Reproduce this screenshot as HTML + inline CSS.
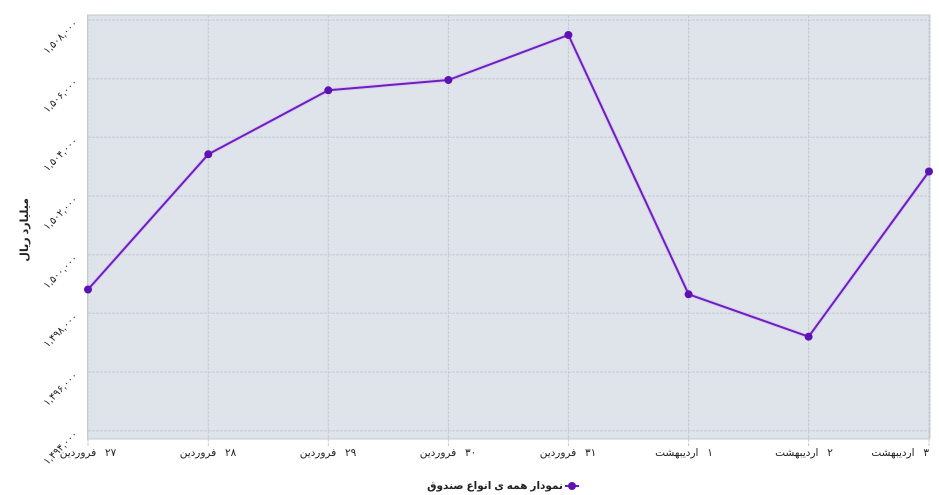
<!DOCTYPE html>
<html>
<head>
<meta charset="utf-8">
<style>
  html, body { margin:0; padding:0; background:#ffffff; }
  body { width:939px; height:495px; position:relative; overflow:hidden;
         font-family:"Liberation Sans","DejaVu Sans",sans-serif; color:#222; }
  .xl { position:absolute; top:446px; font-size:10.5px; white-space:pre; direction:rtl;
        line-height:14px; color:#222; }
  .ytitle { position:absolute; left:-5px; top:220px; width:60px; text-align:center;
            transform:rotate(-90deg); transform-origin:30px 8px; font-size:11px; font-weight:bold;
            direction:rtl; white-space:nowrap; line-height:16px; }
  .legend { position:absolute; left:363px; width:200px; text-align:right; top:478px; font-size:10.5px; font-weight:bold;
            white-space:nowrap; line-height:16px; }
  .legend span { direction:rtl; unicode-bidi:embed; }
</style>
</head>
<body>
<svg width="939" height="495" style="position:absolute;left:0;top:0">
  <rect x="87.5" y="15" width="842.5" height="424" fill="#dfe3ea" stroke="#c4c8cf" stroke-width="1"/>
  <!-- horizontal grid -->
  <g stroke="#c6cad1" stroke-width="1" stroke-dasharray="3,1">
    <line x1="88" x2="930" y1="20" y2="20"/>
    <line x1="88" x2="930" y1="78.7" y2="78.7"/>
    <line x1="88" x2="930" y1="137.3" y2="137.3"/>
    <line x1="88" x2="930" y1="196" y2="196"/>
    <line x1="88" x2="930" y1="254.7" y2="254.7"/>
    <line x1="88" x2="930" y1="313.3" y2="313.3"/>
    <line x1="88" x2="930" y1="372" y2="372"/>
    <line x1="88" x2="930" y1="430.7" y2="430.7"/>
  </g>
  <!-- vertical grid -->
  <g stroke="#c6cad1" stroke-width="1" stroke-dasharray="3,1">
    <line y1="15" y2="446" x1="88" x2="88"/>
    <line y1="15" y2="446" x1="208.3" x2="208.3"/>
    <line y1="15" y2="446" x1="328.3" x2="328.3"/>
    <line y1="15" y2="446" x1="448.4" x2="448.4"/>
    <line y1="15" y2="446" x1="568.4" x2="568.4"/>
    <line y1="15" y2="446" x1="688.6" x2="688.6"/>
    <line y1="15" y2="446" x1="808.6" x2="808.6"/>
    <line y1="15" y2="446" x1="929" x2="929"/>
  </g>
  <!-- y tick labels -->
  <g font-family="Liberation Sans, DejaVu Sans, sans-serif" font-size="10" fill="#222" text-anchor="end">
    <text x="78" y="24" transform="rotate(-45 78 24)">۱,۵۰۸,۰۰۰</text>
    <text x="78" y="82.7" transform="rotate(-45 78 82.7)">۱,۵۰۶,۰۰۰</text>
    <text x="78" y="141.3" transform="rotate(-45 78 141.3)">۱,۵۰۴,۰۰۰</text>
    <text x="78" y="200" transform="rotate(-45 78 200)">۱,۵۰۲,۰۰۰</text>
    <text x="78" y="258.7" transform="rotate(-45 78 258.7)">۱,۵۰۰,۰۰۰</text>
    <text x="78" y="317.3" transform="rotate(-45 78 317.3)">۱,۴۹۸,۰۰۰</text>
    <text x="78" y="376" transform="rotate(-45 78 376)">۱,۴۹۶,۰۰۰</text>
    <text x="78" y="434.7" transform="rotate(-45 78 434.7)">۱,۴۹۴,۰۰۰</text>
  </g>
  <!-- series -->
  <polyline fill="none" stroke="#d9b8f5" stroke-width="4" stroke-linejoin="round" opacity="0.5"
    points="88,289.5 208.3,154.3 328.3,90.3 448.4,80 568.4,35 688.6,294.3 808.6,336.7 929,171.5"/>
  <polyline fill="none" stroke="#6c20bf" stroke-width="2" stroke-linejoin="round"
    points="88,289.5 208.3,154.3 328.3,90.3 448.4,80 568.4,35 688.6,294.3 808.6,336.7 929,171.5"/>
  <g fill="#5e12b3">
    <circle cx="88" cy="289.5" r="4"/>
    <circle cx="208.3" cy="154.3" r="4"/>
    <circle cx="328.3" cy="90.3" r="4"/>
    <circle cx="448.4" cy="80" r="4"/>
    <circle cx="568.4" cy="35" r="4"/>
    <circle cx="688.6" cy="294.3" r="4"/>
    <circle cx="808.6" cy="336.7" r="4"/>
    <circle cx="929" cy="171.5" r="4"/>
  </g>
  <!-- legend marker -->
  <line x1="565" x2="579" y1="486" y2="486" stroke="#6c20bf" stroke-width="2"/>
  <circle cx="572" cy="486" r="4" fill="#5e12b3"/>
</svg>

<div class="xl" style="left:38px;width:100px;text-align:center;">۲۷   فروردین</div>
<div class="xl" style="left:158px;width:100px;text-align:center;">۲۸   فروردین</div>
<div class="xl" style="left:278px;width:100px;text-align:center;">۲۹   فروردین</div>
<div class="xl" style="left:398px;width:100px;text-align:center;">۳۰   فروردین</div>
<div class="xl" style="left:518px;width:100px;text-align:center;">۳۱   فروردین</div>
<div class="xl" style="left:634px;width:100px;text-align:center;">۱   اردیبهشت</div>
<div class="xl" style="left:754px;width:100px;text-align:center;">۲   اردیبهشت</div>
<div class="xl" style="left:829px;width:100px;text-align:right;">۳   اردیبهشت</div>

<div class="ytitle">میلیارد ریال</div>
<div class="legend"><span>نمودار همه ی انواع صندوق</span></div>
</body>
</html>
